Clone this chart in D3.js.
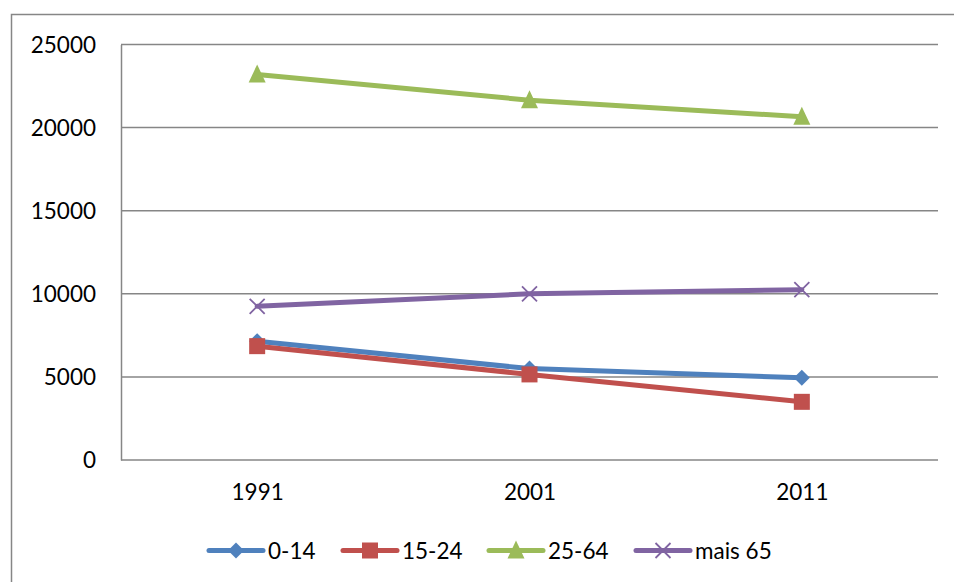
<!DOCTYPE html>
<html><head><meta charset="utf-8">
<script src="https://cdn.jsdelivr.net/npm/d3@7"></script>
<style>body{margin:0;background:#fff}svg{display:block}text{font-family:Lato,"Open Sans",sans-serif;fill:#000}</style>
</head><body>
<svg id="c" width="954" height="582"></svg>
<script>
const categories = ["1991", "2001", "2011"];
const seriesNames = ["0-14", "15-24", "25-64", "mais 65"];
const values014 = [7150, 5500, 4950];
const values1524 = [6850, 5150, 3500];
const values2564 = [23200, 21650, 20650];
const valuesMais65 = [9250, 10000, 10250];
const yTicks = [0, 5000, 10000, 15000, 20000, 25000];
const colors = ["#4F81BD", "#C0504D", "#9BBB59", "#8064A2"];
const markers = ["diamond", "square", "triangle", "x"];

const series = [values014, values1524, values2564, valuesMais65].map((v, i) => ({name: seriesNames[i], values: v, color: colors[i], marker: markers[i]}));

const svg = d3.select("#c");
const L = 121, R = 938, T = 44.5, B = 460;
svg.append("rect").attr("x", 11.5).attr("y", 14.5).attr("width", 1200).attr("height", 1200)
  .attr("fill", "none").attr("stroke", "#868686").attr("stroke-width", 1.5);

const x = d3.scalePoint().domain(categories).range([L, R]).padding(0.5);
const y = d3.scaleLinear().domain([0, 25000]).range([B, T]);

// gridlines
svg.append("g").selectAll("line").data(yTicks.filter(d => d > 0)).join("line")
  .attr("x1", L).attr("x2", R).attr("y1", d => y(d)).attr("y2", d => y(d))
  .attr("stroke", "#868686").attr("stroke-width", 1.5);

// axes
const yAxis = svg.append("g").attr("transform", `translate(${L},0)`)
  .call(d3.axisLeft(y).tickValues(yTicks).tickSize(0).tickPadding(25).tickFormat(d3.format("d")));
yAxis.select(".domain").attr("stroke", "#868686").attr("stroke-width", 1.5);
yAxis.selectAll("text").attr("font-size", 22.5).attr("dy", "0.35em");

const xAxis = svg.append("g").attr("transform", `translate(0,${B})`)
  .call(d3.axisBottom(x).tickSize(0).tickPadding(24));
xAxis.select(".domain").attr("stroke", "#868686").attr("stroke-width", 1.5).attr("d", `M${L},0H${R}`);
xAxis.selectAll("text").attr("font-size", 22.5);

function drawMarker(g, type, cx, cy, color) {
  if (type === "diamond") {
    g.append("path").attr("d", `M${cx},${cy-8}L${cx+8},${cy}L${cx},${cy+8}L${cx-8},${cy}Z`).attr("fill", color);
  } else if (type === "square") {
    g.append("rect").attr("x", cx-8).attr("y", cy-8).attr("width", 16).attr("height", 16).attr("fill", color);
  } else if (type === "triangle") {
    g.append("path").attr("d", `M${cx},${cy-10}L${cx+8.5},${cy+8}L${cx-8.5},${cy+8}Z`).attr("fill", color);
  } else {
    g.append("path").attr("d", `M${cx-7.5},${cy-7.5}L${cx+7.5},${cy+7.5}M${cx+7.5},${cy-7.5}L${cx-7.5},${cy+7.5}`)
      .attr("stroke", color).attr("stroke-width", 1.8);
  }
}

const line = d3.line().x((d, i) => x(categories[i])).y(d => y(d));
series.forEach(s => {
  const g = svg.append("g");
  g.append("path").attr("d", line(s.values)).attr("fill", "none").attr("stroke", s.color)
    .attr("stroke-width", 5).attr("stroke-linejoin", "round").attr("stroke-linecap", "round");
  s.values.forEach((v, i) => drawMarker(g, s.marker, x(categories[i]), y(v), s.color));
});

// legend
const legendX = [209, 343, 489, 636];
const ly = 550.5;
series.forEach((s, i) => {
  const g = svg.append("g");
  g.append("line").attr("x1", legendX[i]).attr("x2", legendX[i] + 54).attr("y1", ly).attr("y2", ly)
    .attr("stroke", s.color).attr("stroke-width", 5).attr("stroke-linecap", "round");
  drawMarker(g, s.marker, legendX[i] + 27, ly, s.color);
  g.append("text").attr("x", legendX[i] + 59).attr("y", ly).attr("dy", "0.36em")
    .attr("font-size", 22.5).text(s.name);
});
</script>
</body></html>
